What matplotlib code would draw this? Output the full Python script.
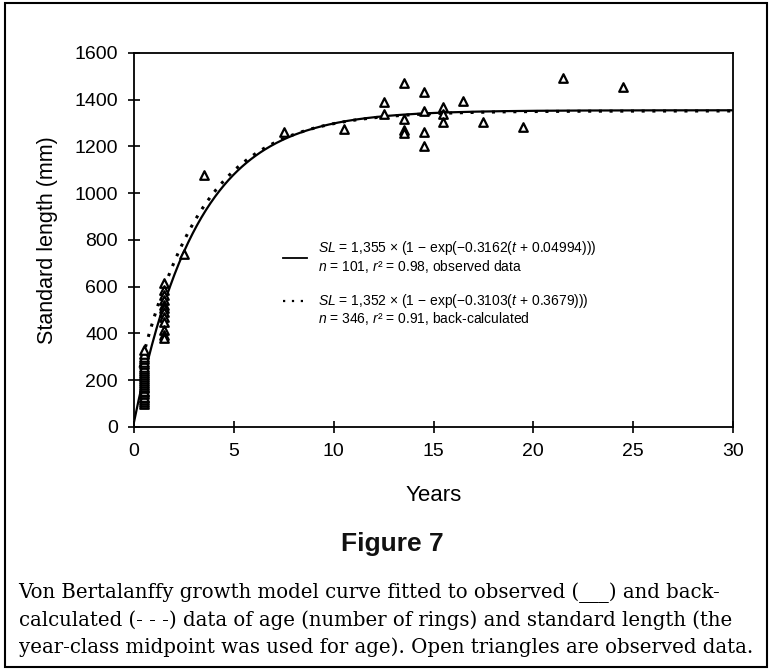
import numpy as np
import matplotlib
matplotlib.use("Agg")
from matplotlib import pyplot as plt
from matplotlib.patches import Rectangle

plt.rcParams['font.family'] = ['Liberation Sans', 'DejaVu Sans']
plt.rcParams['mathtext.fontset'] = 'custom'
plt.rcParams['mathtext.rm'] = 'Liberation Sans'
plt.rcParams['mathtext.it'] = 'Liberation Sans:italic'

age_05 = [0.5] * 26
sl_05 = [100, 108, 115, 122, 130, 140, 148, 155, 165, 172, 180, 190, 198,
         205, 215, 222, 230, 240, 250, 258, 268, 278, 290, 300, 312, 330]
age_15 = [1.5] * 12
sl_15 = [615, 586, 565, 543, 522, 509, 493, 472, 450, 415, 393, 380]
age_rest = [2.5, 3.5, 7.5, 10.5, 12.5, 12.5, 13.5, 13.5, 13.5, 13.5,
            14.5, 14.5, 14.5, 14.5, 15.5, 15.5, 15.5, 16.5, 17.5, 19.5,
            21.5, 24.5]
sl_rest = [740, 1078, 1262, 1273, 1391, 1339, 1473, 1317, 1270, 1256,
           1434, 1352, 1260, 1202, 1370, 1339, 1306, 1394, 1306, 1285,
           1494, 1456]

ages = age_05 + age_15 + age_rest
lengths = sl_05 + sl_15 + sl_rest

# von Bertalanffy parameters given in the figure
obs_linf, obs_k, obs_t0 = 1355, 0.3162, -0.04994
back_linf, back_k, back_t0 = 1352, 0.3103, -0.3679

t = np.linspace(0, 30, 400)
obs_curve = obs_linf * (1 - np.exp(-obs_k * (t - obs_t0)))
t_b = np.linspace(0.3, 30, 400)
back_curve = back_linf * (1 - np.exp(-back_k * (t_b - back_t0)))

fig = plt.figure(figsize=(7.72, 6.70), dpi=100)
fig.patches.append(Rectangle((0.007, 0.004), 0.986, 0.992, transform=fig.transFigure,
                             fill=False, edgecolor='black', linewidth=1.5))

ax = fig.add_axes([0.1736, 0.3627, 0.7759, 0.5582])
ax.plot(t, obs_curve, color='black', linewidth=1.6, zorder=3)
ax.plot(t_b, back_curve, color='black', linewidth=2.2, linestyle=(0, (1, 2.5)), zorder=3)
ax.scatter(ages, lengths, marker='^', s=38, facecolors='white', edgecolors='black',
           linewidths=1.6, zorder=4)

ax.set_xlim(0, 30)
ax.set_ylim(0, 1600)
ax.set_xticks(range(0, 31, 5))
ax.set_yticks(range(0, 1601, 200))
ax.tick_params(direction='inout', length=9, width=1.2, labelsize=14, pad=7)
for s in ax.spines.values():
    s.set_linewidth(1.3)
ax.set_xlabel("Years", fontsize=16, labelpad=18)
ax.set_ylabel("Standard length (mm)", fontsize=15.5, labelpad=12)

# legend drawn as text
fs = 10
ax.plot([7.45, 8.65], [723, 723], color='black', linewidth=1.3)
ax.text(9.2, 765, r"$SL$ = 1,355 × (1 − exp(−0.3162($t$ + 0.04994)))", fontsize=fs, va='center')
ax.text(9.2, 688, r"$n$ = 101, $r$² = 0.98, observed data", fontsize=fs, va='center')
ax.plot([7.45, 8.65], [537, 537], color='black', linewidth=1.6, linestyle=(0, (1, 3)))
ax.text(9.2, 539, r"$SL$ = 1,352 × (1 − exp(−0.3103($t$ + 0.3679)))", fontsize=fs, va='center')
ax.text(9.2, 464, r"$n$ = 346, $r$² = 0.91, back-calculated", fontsize=fs, va='center')

fig.text(0.508, 0.188, "Figure 7", fontsize=19, fontweight='bold', ha='center', va='center',
         color='#111111')
caption = ["Von Bertalanffy growth model curve fitted to observed (___) and back-",
           "calculated (- - -) data of age (number of rings) and standard length (the",
           "year-class midpoint was used for age). Open triangles are observed data."]
for i, line in enumerate(caption):
    fig.text(0.024, 0.115 - i * 0.0405, line, fontsize=14.2, family='DejaVu Serif',
             ha='left', va='center')

fig.savefig("out.png", dpi=100)
